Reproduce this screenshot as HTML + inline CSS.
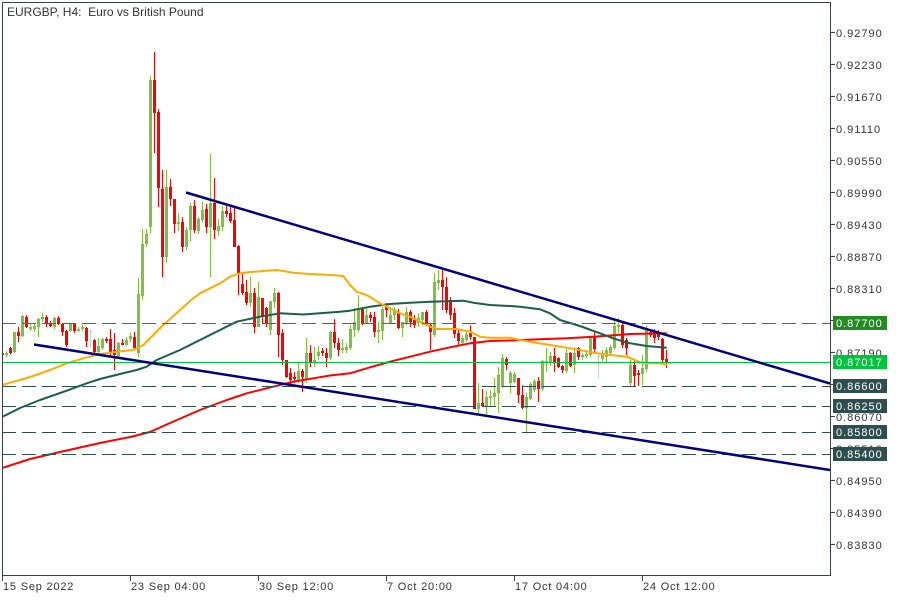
<!DOCTYPE html>
<html><head><meta charset="utf-8"><style>
html,body{margin:0;padding:0;background:#fff;}
svg{display:block;}
text{font-family:"Liberation Sans",sans-serif;}
</style></head><body>
<svg width="900" height="600" viewBox="0 0 900 600" xmlns="http://www.w3.org/2000/svg">
<rect x="0" y="0" width="900" height="600" fill="#fff"/>
<defs><clipPath id="cp"><rect x="2" y="2" width="828" height="573"/></clipPath></defs>
<g clip-path="url(#cp)" shape-rendering="crispEdges">
<g fill="#7fc241">
<rect x="6" y="351" width="1" height="6"/><rect x="5" y="353" width="3" height="2"/>
<rect x="14" y="332" width="1" height="21"/><rect x="13" y="332" width="3" height="20"/>
<rect x="22" y="315" width="1" height="22"/><rect x="21" y="316" width="3" height="20"/>
<rect x="30" y="323" width="1" height="8"/><rect x="29" y="327" width="3" height="2"/>
<rect x="34" y="323" width="1" height="9"/><rect x="33" y="326" width="3" height="3"/>
<rect x="38" y="318" width="1" height="19"/><rect x="37" y="319" width="3" height="8"/>
<rect x="42" y="313" width="1" height="9"/><rect x="41" y="317" width="3" height="2"/>
<rect x="54" y="317" width="1" height="12"/><rect x="53" y="318" width="3" height="9"/>
<rect x="70" y="323" width="1" height="9"/><rect x="69" y="323" width="3" height="8"/>
<rect x="78" y="327" width="1" height="5"/><rect x="77" y="329" width="3" height="2"/>
<rect x="82" y="325" width="1" height="6"/><rect x="81" y="327" width="3" height="2"/>
<rect x="98" y="338" width="1" height="16"/><rect x="97" y="346" width="3" height="6"/>
<rect x="102" y="338" width="1" height="12"/><rect x="101" y="339" width="3" height="9"/>
<rect x="118" y="342" width="1" height="15"/><rect x="117" y="343" width="3" height="13"/>
<rect x="126" y="337" width="1" height="9"/><rect x="125" y="340" width="3" height="5"/>
<rect x="130" y="333" width="1" height="9"/><rect x="129" y="336" width="3" height="3"/>
<rect x="138" y="278" width="1" height="79"/><rect x="137" y="294" width="3" height="59"/>
<rect x="142" y="229" width="1" height="71"/><rect x="141" y="244" width="3" height="52"/>
<rect x="146" y="229" width="1" height="18"/><rect x="145" y="234" width="3" height="10"/>
<rect x="150" y="76" width="1" height="157"/><rect x="149" y="80" width="3" height="147"/>
<rect x="166" y="170" width="1" height="93"/><rect x="165" y="187" width="3" height="70"/>
<rect x="178" y="213" width="1" height="18"/><rect x="177" y="222" width="3" height="2"/>
<rect x="186" y="227" width="1" height="23"/><rect x="185" y="230" width="3" height="17"/>
<rect x="190" y="203" width="1" height="38"/><rect x="189" y="206" width="3" height="24"/>
<rect x="198" y="217" width="1" height="17"/><rect x="197" y="219" width="3" height="12"/>
<rect x="202" y="202" width="1" height="20"/><rect x="201" y="210" width="3" height="10"/>
<rect x="210" y="154" width="1" height="123"/><rect x="209" y="203" width="3" height="24"/>
<rect x="218" y="219" width="1" height="17"/><rect x="217" y="226" width="3" height="5"/>
<rect x="222" y="206" width="1" height="25"/><rect x="221" y="211" width="3" height="16"/>
<rect x="250" y="277" width="1" height="30"/><rect x="249" y="293" width="3" height="10"/>
<rect x="258" y="282" width="1" height="45"/><rect x="257" y="297" width="3" height="30"/>
<rect x="270" y="301" width="1" height="34"/><rect x="269" y="301" width="3" height="29"/>
<rect x="274" y="288" width="1" height="20"/><rect x="273" y="293" width="3" height="9"/>
<rect x="298" y="362" width="1" height="21"/><rect x="297" y="371" width="3" height="9"/>
<rect x="306" y="338" width="1" height="45"/><rect x="305" y="353" width="3" height="27"/>
<rect x="314" y="347" width="1" height="20"/><rect x="313" y="360" width="3" height="3"/>
<rect x="318" y="346" width="1" height="14"/><rect x="317" y="352" width="3" height="4"/>
<rect x="330" y="331" width="1" height="29"/><rect x="329" y="332" width="3" height="26"/>
<rect x="342" y="339" width="1" height="14"/><rect x="341" y="348" width="3" height="2"/>
<rect x="346" y="343" width="1" height="10"/><rect x="345" y="347" width="3" height="3"/>
<rect x="350" y="325" width="1" height="25"/><rect x="349" y="329" width="3" height="19"/>
<rect x="354" y="308" width="1" height="29"/><rect x="353" y="322" width="3" height="8"/>
<rect x="358" y="295" width="1" height="37"/><rect x="357" y="308" width="3" height="22"/>
<rect x="366" y="308" width="1" height="16"/><rect x="365" y="315" width="3" height="8"/>
<rect x="378" y="322" width="1" height="21"/><rect x="377" y="330" width="3" height="2"/>
<rect x="382" y="307" width="1" height="33"/><rect x="381" y="309" width="3" height="22"/>
<rect x="390" y="307" width="1" height="17"/><rect x="389" y="315" width="3" height="8"/>
<rect x="394" y="307" width="1" height="13"/><rect x="393" y="311" width="3" height="4"/>
<rect x="402" y="322" width="1" height="15"/><rect x="401" y="322" width="3" height="6"/>
<rect x="406" y="307" width="1" height="18"/><rect x="405" y="312" width="3" height="11"/>
<rect x="418" y="313" width="1" height="14"/><rect x="417" y="318" width="3" height="5"/>
<rect x="422" y="312" width="1" height="13"/><rect x="421" y="312" width="3" height="8"/>
<rect x="434" y="273" width="1" height="64"/><rect x="433" y="282" width="3" height="53"/>
<rect x="438" y="270" width="1" height="20"/><rect x="437" y="280" width="3" height="3"/>
<rect x="462" y="335" width="1" height="10"/><rect x="461" y="338" width="3" height="5"/>
<rect x="466" y="330" width="1" height="12"/><rect x="465" y="334" width="3" height="6"/>
<rect x="478" y="383" width="1" height="32"/><rect x="477" y="403" width="3" height="6"/>
<rect x="486" y="391" width="1" height="24"/><rect x="485" y="397" width="3" height="9"/>
<rect x="490" y="390" width="1" height="16"/><rect x="489" y="396" width="3" height="2"/>
<rect x="494" y="378" width="1" height="29"/><rect x="493" y="393" width="3" height="4"/>
<rect x="498" y="367" width="1" height="46"/><rect x="497" y="375" width="3" height="18"/>
<rect x="502" y="354" width="1" height="34"/><rect x="501" y="358" width="3" height="29"/>
<rect x="510" y="371" width="1" height="22"/><rect x="509" y="373" width="3" height="10"/>
<rect x="514" y="372" width="1" height="11"/><rect x="513" y="374" width="3" height="8"/>
<rect x="526" y="393" width="1" height="39"/><rect x="525" y="397" width="3" height="11"/>
<rect x="530" y="382" width="1" height="18"/><rect x="529" y="384" width="3" height="15"/>
<rect x="534" y="379" width="1" height="13"/><rect x="533" y="381" width="3" height="9"/>
<rect x="542" y="360" width="1" height="31"/><rect x="541" y="361" width="3" height="28"/>
<rect x="546" y="348" width="1" height="24"/><rect x="545" y="361" width="3" height="2"/>
<rect x="550" y="352" width="1" height="14"/><rect x="549" y="356" width="3" height="7"/>
<rect x="566" y="349" width="1" height="24"/><rect x="565" y="353" width="3" height="18"/>
<rect x="574" y="347" width="1" height="26"/><rect x="573" y="353" width="3" height="12"/>
<rect x="582" y="353" width="1" height="7"/><rect x="581" y="355" width="3" height="2"/>
<rect x="586" y="350" width="1" height="8"/><rect x="585" y="354" width="3" height="2"/>
<rect x="590" y="336" width="1" height="21"/><rect x="589" y="337" width="3" height="18"/>
<rect x="602" y="350" width="1" height="11"/><rect x="601" y="354" width="3" height="5"/>
<rect x="606" y="347" width="1" height="16"/><rect x="605" y="350" width="3" height="7"/>
<rect x="610" y="345" width="1" height="10"/><rect x="609" y="347" width="3" height="6"/>
<rect x="614" y="318" width="1" height="32"/><rect x="613" y="326" width="3" height="22"/>
<rect x="618" y="318" width="1" height="15"/><rect x="617" y="325" width="3" height="2"/>
<rect x="630" y="360" width="1" height="26"/><rect x="629" y="365" width="3" height="18"/>
<rect x="642" y="355" width="1" height="30"/><rect x="641" y="368" width="3" height="6"/>
<rect x="646" y="326" width="1" height="46"/><rect x="645" y="328" width="3" height="41"/>
</g>
<g fill="#c4cccc">
<rect x="90" y="330" width="1" height="17"/><rect x="89" y="331" width="3" height="1"/>
<rect x="598" y="353" width="1" height="25"/><rect x="597" y="356" width="3" height="1"/>
</g>
<g fill="#ff0000">
<rect x="2" y="352" width="1" height="4"/><rect x="1" y="353" width="3" height="2"/>
<rect x="10" y="347" width="1" height="7"/><rect x="9" y="348" width="3" height="5"/>
<rect x="18" y="327" width="1" height="15"/><rect x="17" y="332" width="3" height="4"/>
<rect x="26" y="315" width="1" height="13"/><rect x="25" y="317" width="3" height="10"/>
<rect x="46" y="315" width="1" height="12"/><rect x="45" y="317" width="3" height="7"/>
<rect x="50" y="321" width="1" height="6"/><rect x="49" y="323" width="3" height="3"/>
<rect x="58" y="316" width="1" height="9"/><rect x="57" y="318" width="3" height="6"/>
<rect x="62" y="323" width="1" height="13"/><rect x="61" y="324" width="3" height="8"/>
<rect x="66" y="330" width="1" height="17"/><rect x="65" y="331" width="3" height="14"/>
<rect x="74" y="323" width="1" height="10"/><rect x="73" y="324" width="3" height="7"/>
<rect x="86" y="327" width="1" height="20"/><rect x="85" y="328" width="3" height="13"/>
<rect x="94" y="339" width="1" height="14"/><rect x="93" y="340" width="3" height="12"/>
<rect x="106" y="337" width="1" height="6"/><rect x="105" y="339" width="3" height="2"/>
<rect x="110" y="329" width="1" height="26"/><rect x="109" y="339" width="3" height="14"/>
<rect x="114" y="333" width="1" height="37"/><rect x="113" y="350" width="3" height="5"/>
<rect x="122" y="339" width="1" height="6"/><rect x="121" y="343" width="3" height="2"/>
<rect x="134" y="332" width="1" height="18"/><rect x="133" y="337" width="3" height="11"/>
<rect x="154" y="52" width="1" height="101"/><rect x="153" y="80" width="3" height="33"/>
<rect x="158" y="109" width="1" height="98"/><rect x="157" y="112" width="3" height="76"/>
<rect x="162" y="170" width="1" height="107"/><rect x="161" y="189" width="3" height="68"/>
<rect x="170" y="179" width="1" height="27"/><rect x="169" y="187" width="3" height="12"/>
<rect x="174" y="199" width="1" height="34"/><rect x="173" y="199" width="3" height="25"/>
<rect x="182" y="217" width="1" height="35"/><rect x="181" y="222" width="3" height="25"/>
<rect x="194" y="200" width="1" height="33"/><rect x="193" y="206" width="3" height="24"/>
<rect x="206" y="204" width="1" height="29"/><rect x="205" y="209" width="3" height="18"/>
<rect x="214" y="178" width="1" height="61"/><rect x="213" y="203" width="3" height="27"/>
<rect x="226" y="206" width="1" height="11"/><rect x="225" y="211" width="3" height="3"/>
<rect x="230" y="206" width="1" height="17"/><rect x="229" y="213" width="3" height="8"/>
<rect x="234" y="207" width="1" height="40"/><rect x="233" y="220" width="3" height="27"/>
<rect x="238" y="245" width="1" height="50"/><rect x="237" y="246" width="3" height="28"/>
<rect x="242" y="272" width="1" height="23"/><rect x="241" y="284" width="3" height="9"/>
<rect x="246" y="280" width="1" height="25"/><rect x="245" y="292" width="3" height="11"/>
<rect x="254" y="288" width="1" height="45"/><rect x="253" y="293" width="3" height="34"/>
<rect x="262" y="298" width="1" height="25"/><rect x="261" y="298" width="3" height="19"/>
<rect x="266" y="307" width="1" height="20"/><rect x="265" y="308" width="3" height="15"/>
<rect x="278" y="292" width="1" height="65"/><rect x="277" y="293" width="3" height="42"/>
<rect x="282" y="329" width="1" height="36"/><rect x="281" y="333" width="3" height="27"/>
<rect x="286" y="360" width="1" height="18"/><rect x="285" y="360" width="3" height="17"/>
<rect x="290" y="368" width="1" height="16"/><rect x="289" y="373" width="3" height="7"/>
<rect x="294" y="372" width="1" height="11"/><rect x="293" y="377" width="3" height="2"/>
<rect x="302" y="369" width="1" height="23"/><rect x="301" y="371" width="3" height="6"/>
<rect x="310" y="345" width="1" height="22"/><rect x="309" y="353" width="3" height="9"/>
<rect x="322" y="348" width="1" height="8"/><rect x="321" y="351" width="3" height="2"/>
<rect x="326" y="348" width="1" height="19"/><rect x="325" y="353" width="3" height="5"/>
<rect x="334" y="319" width="1" height="29"/><rect x="333" y="332" width="3" height="11"/>
<rect x="338" y="338" width="1" height="18"/><rect x="337" y="343" width="3" height="7"/>
<rect x="362" y="307" width="1" height="18"/><rect x="361" y="308" width="3" height="16"/>
<rect x="370" y="312" width="1" height="10"/><rect x="369" y="315" width="3" height="3"/>
<rect x="374" y="312" width="1" height="25"/><rect x="373" y="317" width="3" height="15"/>
<rect x="386" y="303" width="1" height="14"/><rect x="385" y="307" width="3" height="3"/>
<rect x="398" y="309" width="1" height="20"/><rect x="397" y="313" width="3" height="15"/>
<rect x="410" y="310" width="1" height="17"/><rect x="409" y="312" width="3" height="10"/>
<rect x="414" y="315" width="1" height="13"/><rect x="413" y="320" width="3" height="5"/>
<rect x="426" y="310" width="1" height="16"/><rect x="425" y="312" width="3" height="13"/>
<rect x="430" y="323" width="1" height="27"/><rect x="429" y="325" width="3" height="7"/>
<rect x="442" y="269" width="1" height="41"/><rect x="441" y="280" width="3" height="7"/>
<rect x="446" y="277" width="1" height="36"/><rect x="445" y="287" width="3" height="23"/>
<rect x="450" y="297" width="1" height="23"/><rect x="449" y="300" width="3" height="15"/>
<rect x="454" y="308" width="1" height="30"/><rect x="453" y="313" width="3" height="21"/>
<rect x="458" y="330" width="1" height="15"/><rect x="457" y="333" width="3" height="8"/>
<rect x="470" y="325" width="1" height="15"/><rect x="469" y="333" width="3" height="4"/>
<rect x="474" y="337" width="1" height="72"/><rect x="473" y="337" width="3" height="72"/>
<rect x="482" y="389" width="1" height="18"/><rect x="481" y="403" width="3" height="3"/>
<rect x="506" y="357" width="1" height="13"/><rect x="505" y="359" width="3" height="6"/>
<rect x="518" y="378" width="1" height="25"/><rect x="517" y="378" width="3" height="17"/>
<rect x="522" y="385" width="1" height="24"/><rect x="521" y="395" width="3" height="13"/>
<rect x="538" y="377" width="1" height="25"/><rect x="537" y="381" width="3" height="8"/>
<rect x="554" y="348" width="1" height="24"/><rect x="553" y="356" width="3" height="6"/>
<rect x="558" y="357" width="1" height="11"/><rect x="557" y="358" width="3" height="9"/>
<rect x="562" y="365" width="1" height="8"/><rect x="561" y="366" width="3" height="4"/>
<rect x="570" y="352" width="1" height="15"/><rect x="569" y="353" width="3" height="13"/>
<rect x="578" y="347" width="1" height="13"/><rect x="577" y="348" width="3" height="9"/>
<rect x="594" y="332" width="1" height="21"/><rect x="593" y="336" width="3" height="13"/>
<rect x="622" y="322" width="1" height="26"/><rect x="621" y="325" width="3" height="20"/>
<rect x="626" y="338" width="1" height="17"/><rect x="625" y="340" width="3" height="8"/>
<rect x="634" y="360" width="1" height="26"/><rect x="633" y="365" width="3" height="11"/>
<rect x="638" y="370" width="1" height="16"/><rect x="637" y="373" width="3" height="2"/>
<rect x="650" y="329" width="1" height="8"/><rect x="649" y="332" width="3" height="3"/>
<rect x="654" y="329" width="1" height="14"/><rect x="653" y="332" width="3" height="6"/>
<rect x="658" y="330" width="1" height="10"/><rect x="657" y="332" width="3" height="5"/>
<rect x="662" y="338" width="1" height="24"/><rect x="661" y="339" width="3" height="21"/>
<rect x="666" y="350" width="1" height="18"/><rect x="665" y="359" width="3" height="4"/>
</g>
</g>
<g clip-path="url(#cp)" fill="none" stroke-linejoin="round">
<polyline stroke="#ff0000" stroke-width="2" points="2,468 30,459 60,452 100,443 130,437 150,432 170,423 200,410 226.7,400 246.7,393.3 266.7,388.3 293.3,381.7 313.3,378.3 330,375.5 350,373.3 370,367.3 390,361.7 410,356.7 430,351.7 450,347.3 470,343.3 490,341 510,340.5 520,340 566.7,338.3 593.3,336.7 630,334 666.7,333.3"/>
<polyline stroke="#1b5e4a" stroke-width="2" points="2,417 20,408 40,400 66.7,390.7 86.7,383.3 100,379 120,374 136.7,370 146.7,366.7 156.7,360 180,350 200,340 220,330 236.7,321.7 260,316.7 280,313.3 303.3,314.5 320,313.3 340,311.7 350,310.7 370,306.7 390,304 410,302.7 430,301.7 463.3,300.7 473.3,302.7 490,305 510,306 520,306.7 540,309.3 550,313.3 560,320 580,326 600,333.3 613.3,338.3 626.7,342.7 646.7,346 666.7,347.7"/>
<polyline stroke="#ffab00" stroke-width="2" points="2,385 10,382.7 20,380 33,376 50,370 66.7,363.3 83.3,358.3 100,354 116.7,351.7 133.3,350 143.3,345 153.3,335 160,328 180,310 191.7,299.5 200,293.3 220,283.3 230,276.7 240,273.3 250,272 260,271.3 276.7,270 293.3,272.7 310,274 326.7,274.7 343.3,276 350,285 356.7,291.7 366.7,295 380,303.3 390,308.3 400,313.3 410,316.7 420,321.7 430,326.7 436.7,329 456.7,329 470,331.7 480,336.7 490,337.7 510,337.7 520,340 533.3,342.3 550,345 566.7,347.7 580,350 593.3,352.7 610,355 626.7,356.7 633.3,359.3 640,362.3 646.7,363.3 660,363.3 666.7,365"/>
<g shape-rendering="crispEdges" stroke-width="1">
<line x1="2" y1="323.5" x2="830" y2="323.5" stroke="#228b22" stroke-dasharray="14 6"/>
<line x1="2" y1="362.5" x2="830" y2="362.5" stroke="#00c43c"/>
<line x1="2" y1="386.5" x2="830" y2="386.5" stroke="#2f4f4f" stroke-dasharray="14 6"/>
<line x1="2" y1="406.5" x2="830" y2="406.5" stroke="#2f4f4f" stroke-dasharray="14 6"/>
<line x1="2" y1="432.5" x2="830" y2="432.5" stroke="#2f4f4f" stroke-dasharray="14 6"/>
<line x1="2" y1="454.5" x2="830" y2="454.5" stroke="#2f4f4f" stroke-dasharray="14 6"/>
</g>
<line x1="186" y1="192.5" x2="830" y2="383.5" stroke="#000080" stroke-width="2.5"/>
<line x1="34" y1="344.5" x2="830" y2="470" stroke="#000080" stroke-width="2.5"/>
</g>
<g shape-rendering="crispEdges" stroke="#3a3f4a" stroke-width="1" fill="none">
<polyline points="2.5,2.5 830.5,2.5 830.5,575.5 2.5,575.5 2.5,2.5"/>
<line x1="2.5" y1="576" x2="2.5" y2="581"/>
<line x1="130.5" y1="576" x2="130.5" y2="581"/>
<line x1="258.5" y1="576" x2="258.5" y2="581"/>
<line x1="386.5" y1="576" x2="386.5" y2="581"/>
<line x1="514.5" y1="576" x2="514.5" y2="581"/>
<line x1="642.5" y1="576" x2="642.5" y2="581"/>
<line x1="831" y1="32.5" x2="835" y2="32.5"/>
<line x1="831" y1="64.5" x2="835" y2="64.5"/>
<line x1="831" y1="96.5" x2="835" y2="96.5"/>
<line x1="831" y1="128.5" x2="835" y2="128.5"/>
<line x1="831" y1="160.5" x2="835" y2="160.5"/>
<line x1="831" y1="192.5" x2="835" y2="192.5"/>
<line x1="831" y1="224.5" x2="835" y2="224.5"/>
<line x1="831" y1="256.5" x2="835" y2="256.5"/>
<line x1="831" y1="288.5" x2="835" y2="288.5"/>
<line x1="831" y1="320.5" x2="835" y2="320.5"/>
<line x1="831" y1="352.5" x2="835" y2="352.5"/>
<line x1="831" y1="384.5" x2="835" y2="384.5"/>
<line x1="831" y1="416.5" x2="835" y2="416.5"/>
<line x1="831" y1="448.5" x2="835" y2="448.5"/>
<line x1="831" y1="480.5" x2="835" y2="480.5"/>
<line x1="831" y1="512.5" x2="835" y2="512.5"/>
<line x1="831" y1="544.5" x2="835" y2="544.5"/>
</g>
<g font-size="11" fill="#333" letter-spacing="1">
<text x="836" y="37">0.92790</text>
<text x="836" y="69">0.92230</text>
<text x="836" y="101">0.91670</text>
<text x="836" y="133">0.91110</text>
<text x="836" y="165">0.90550</text>
<text x="836" y="197">0.89990</text>
<text x="836" y="229">0.89430</text>
<text x="836" y="261">0.88870</text>
<text x="836" y="293">0.88310</text>
<text x="836" y="325">0.87750</text>
<text x="836" y="357">0.87190</text>
<text x="836" y="389">0.86630</text>
<text x="836" y="421">0.86070</text>
<text x="836" y="453">0.85510</text>
<text x="836" y="485">0.84950</text>
<text x="836" y="517">0.84390</text>
<text x="836" y="549">0.83830</text>
</g>
<g shape-rendering="crispEdges">
<rect x="833" y="316" width="54" height="14" fill="#228b22"/>
<rect x="833" y="355" width="54" height="14" fill="#00c43c"/>
<rect x="833" y="379" width="54" height="14" fill="#2f4f4f"/>
<rect x="833" y="399" width="54" height="14" fill="#2f4f4f"/>
<rect x="833" y="425" width="54" height="14" fill="#2f4f4f"/>
<rect x="833" y="447" width="54" height="14" fill="#2f4f4f"/>
</g>
<g font-size="11" fill="#fff" letter-spacing="1">
<text x="836" y="327">0.87700</text>
<text x="836" y="366">0.87017</text>
<text x="836" y="390">0.86600</text>
<text x="836" y="410">0.86250</text>
<text x="836" y="436">0.85800</text>
<text x="836" y="458">0.85400</text>
</g>
<g font-size="11" fill="#333" letter-spacing="0.8">
<text x="3" y="590">15 Sep 2022</text>
<text x="131" y="590">23 Sep 04:00</text>
<text x="259" y="590">30 Sep 12:00</text>
<text x="387" y="590">7 Oct 20:00</text>
<text x="515" y="590">17 Oct 04:00</text>
<text x="643" y="590">24 Oct 12:00</text>
</g>
<text x="7" y="16" font-size="12" fill="#333">EURGBP, H4:&#160; Euro vs British Pound</text>
</svg>
</body></html>
